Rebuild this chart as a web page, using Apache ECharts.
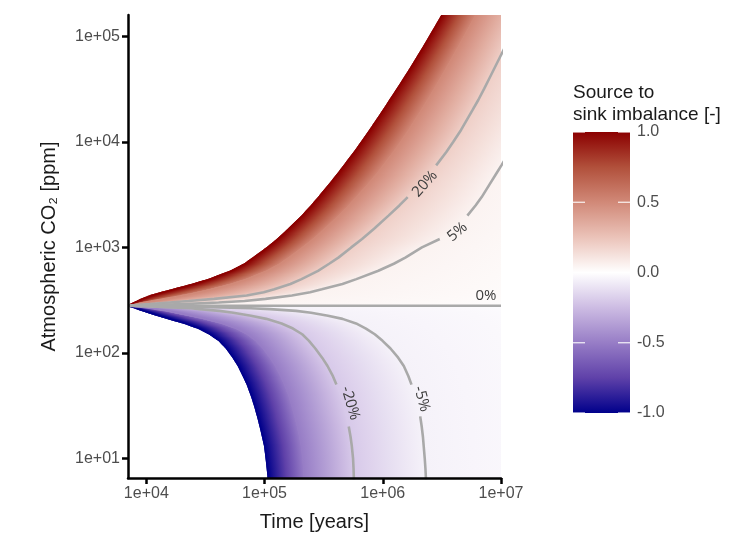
<!DOCTYPE html>
<html>
<head>
<meta charset="utf-8">
<script src="https://cdn.jsdelivr.net/npm/echarts@6/dist/echarts.min.js"></script>
<style>
  html, body { margin: 0; padding: 0; background: #fff; }
  #chart { width: 732px; height: 535px; }
</style>
</head>
<body>
<div id="chart"></div>
<script>
// ---------- data ----------
// time axis limits [years] and the starting CO2 level [ppm]
const timeStart = 7000;
const timeEnd = 1e7;
const baselineCO2 = 280;
const fadeTime = 1e8; // where the 0 % band has faded to white

// rising branch: CO2 levels and the time each imbalance curve reaches them
const co2Up = [280, 285, 290, 300, 310, 325, 350, 375, 400, 450, 500, 600, 700, 800, 1000, 1200, 1500, 2000, 2500, 3000,
  4000, 5000, 6000, 8000, 10000, 13000, 16000, 20000, 25000, 32000, 40000, 50000, 65000, 80000, 100000, 125000, 160000];
const timeUp100 = [7000, 7235, 7464, 7933, 8440, 9216, 11000, 13640, 16960, 25150, 34220, 52240, 68110, 80540, 106000,
  129100, 160000, 208200, 250000, 287200, 355200, 416700, 472100, 573600, 661400, 779000, 882700, 1010000, 1148000,
  1327000, 1509000, 1713000, 1975000, 2211000, 2485000, 2794000, 3172000];
const timeUp50 = [7000, 7543, 8131, 9438, 11040, 13850, 20170, 27560, 35470, 53170, 71070, 105700, 135800, 161800, 211700,
  259800, 325300, 427200, 519900, 603600, 758900, 898000, 1019000, 1238000, 1424000, 1671000, 1880000, 2133000, 2409000,
  2750000, 3089000, 3465000, 3952000, 4388000, 4895000, 5463000, 6154000];
const timeUp20 = [7000, 8641, 10670, 15660, 22730, 37430, 70540, 98440, 120800, 165400, 205400, 283300, 351800, 421000,
  541100, 667900, 843900, 1118000, 1382000, 1625000, 2085000, 2491000, 2828000, 3436000, 3938000, 4594000, 5113000,
  5737000, 6425000, 7210000, 7963000, 8795000, 9886000, 10850000, 11990000, 13240000, 14770000];
const timeUp5 = [7000, 12960, 20250, 40870, 67700, 101800, 170300, 242800, 305100, 455900, 597700, 917900, 1240000,
  1551000, 2144000, 3033000, 4031000, 5194000, 6093000, 6865000, 8054000, 9108000, 10080000, 11800000, 13320000,
  15330000, 17100000, 19260000, 21650000, 24620000, 27670000, 31110000, 35800000, 39840000, 44780000, 50240000, 57030000];

// falling branch
const co2Down = [280, 275, 270, 265, 260, 250, 240, 225, 210, 190, 170, 150, 130, 110, 90, 75, 60, 50, 40, 32, 25, 20,
  16, 13, 10, 8, 6.5, 5];
const timeDown100 = [7000, 7378, 7718, 8135, 8507, 9433, 10580, 12690, 15570, 21230, 27940, 34490, 41510, 47770, 54330,
  60120, 66280, 71520, 77010, 82140, 87410, 91960, 96360, 100400, 103300, 105600, 107500, 109800];
const timeDown50 = [7000, 8057, 9158, 10620, 11710, 14610, 17900, 23760, 31320, 44210, 58230, 71830, 85260, 97880,
  111900, 124300, 137800, 148400, 160300, 170700, 181400, 190700, 199000, 206000, 211600, 215200, 218100, 221300];
const timeDown20 = [7000, 11110, 16220, 23770, 28160, 41340, 54330, 76720, 103400, 139300, 174000, 208200, 237600,
  268800, 306900, 340900, 378700, 405500, 438300, 464700, 491800, 515300, 533800, 547500, 560400, 565900, 569200, 572500];
const timeDown5 = [7000, 20900, 42490, 76420, 110700, 184800, 247600, 344200, 456700, 594100, 720800, 855700, 996100,
  1162000, 1350000, 1506000, 1648000, 1750000, 1866000, 1979000, 2073000, 2135000, 2186000, 2220000, 2264000, 2295000,
  2317000, 2340000];

// imbalance levels of each branch (0 = fades out at fadeTime)
const upLevels = [1, 0.5, 0.2, 0.05, 0];
const downLevels = [-1, -0.5, -0.2, -0.05, 0];

// diverging palette (dark blue - white - dark red)
const paletteValues = [-1, -0.75, -0.5, -0.25, 0, 0.25, 0.5, 0.75, 1];
const paletteColors = ['#00008b', '#5f41a9', '#977dc6', '#cdbce3', '#ffffff', '#ebc3b9', '#d18978', '#b1503b', '#8b0000'];

// tick values
const timeTicks = [1e4, 1e5, 1e6, 1e7];
const co2Ticks = [10, 100, 1000, 10000, 100000];
const legendTicks = [-1, -0.5, 0, 0.5, 1];

// labelled contour lines
const contourNames = ['20%', '5%', '-5%', '-20%'];
const labelGapStart = [19, 15, 17, 17];
const labelGapEnd = [22, 17, 20, 21];
const labelOffsets = [-4, -6, 6, 8];
const zeroLabelTime = 7460000;

// ---------- helpers ----------
const upTimes = [timeUp100, timeUp50, timeUp20, timeUp5, null];
const downTimes = [timeDown100, timeDown50, timeDown20, timeDown5, null];
const contourTimes = [timeUp20, timeUp5, timeDown5, timeDown20];
const contourCO2 = [co2Up, co2Up, co2Down, co2Down];

function hexToRgb(h) {
  return [1, 3, 5].map(i => parseInt(h.slice(i, i + 2), 16));
}

function colorAt(v) {
  v = Math.max(-1, Math.min(1, v));
  for (let i = 0; i < paletteValues.length - 1; i++) {
    if (v <= paletteValues[i + 1]) {
      const f = (v - paletteValues[i]) / (paletteValues[i + 1] - paletteValues[i]);
      const a = hexToRgb(paletteColors[i]), b = hexToRgb(paletteColors[i + 1]);
      return 'rgb(' + a.map((c, k) => Math.round(c + (b[k] - c) * f)).join(',') + ')';
    }
  }
  return paletteColors[paletteColors.length - 1];
}

// one item per band between two neighbouring levels
const bands = [];
[[co2Up, upLevels, upTimes], [co2Down, downLevels, downTimes]].forEach(([co2, levels, times]) => {
  for (let j = 0; j < levels.length - 1; j++) {
    bands.push({ co2, a: levels[j], b: levels[j + 1], tA: times[j], tB: times[j + 1] });
  }
});

const lerp = (p, q, s) => [p[0] + (q[0] - p[0]) * s, p[1] + (q[1] - p[1]) * s];

function renderBand(params, api) {
  const band = bands[params.dataIndex];
  const cs = params.coordSys;
  const children = [];
  const tB = k => band.tB ? band.tB[k] : fadeTime;
  const stops = [0, 0.25, 0.5, 0.75, 1].map(s => ({ offset: s, color: colorAt(band.a + (band.b - band.a) * s) }));
  for (let k = 0; k < band.co2.length - 1; k++) {
    const p1 = api.coord([band.tA[k], band.co2[k]]);
    const p2 = api.coord([band.tA[k + 1], band.co2[k + 1]]);
    const p3 = api.coord([tB(k + 1), band.co2[k + 1]]);
    const p4 = api.coord([tB(k), band.co2[k]]);
    // thin horizontal slices so the colour follows the slanted edges
    const n = Math.max(1, Math.round(Math.abs(p2[1] - p1[1])));
    for (let s = 0; s < n; s++) {
      const q1 = lerp(p1, p2, s / n), q2 = lerp(p1, p2, (s + 1) / n);
      const q3 = lerp(p4, p3, (s + 1) / n), q4 = lerp(p4, p3, s / n);
      const xa = (q1[0] + q2[0]) / 2;
      let xb = (q3[0] + q4[0]) / 2;
      if (xb - xa < 0.5) xb = xa + 0.5;
      const grad = new echarts.graphic.LinearGradient(xa, 0, xb, 0, stops, true);
      children.push({
        type: 'polygon',
        shape: { points: [q1, q2, q3, q4] },
        style: { fill: grad, stroke: grad, lineWidth: 1.4 }
      });
    }
  }
  return {
    type: 'group',
    children,
    clipPath: { type: 'rect', shape: { x: cs.x, y: cs.y, width: cs.width, height: cs.height } }
  };
}

function contourData(i) {
  const t = contourTimes[i], c = contourCO2[i];
  return c.map((v, k) => (k > labelGapStart[i] && k < labelGapEnd[i]) ? [t[k], '-'] : [t[k], v]);
}

function renderLabel(params, api) {
  const i = params.dataIndex;
  let cx, cy, rot, off, text;
  if (i < contourNames.length) {
    const t = contourTimes[i], c = contourCO2[i];
    const a = api.coord([t[labelGapStart[i]], c[labelGapStart[i]]]);
    const b = api.coord([t[labelGapEnd[i]], c[labelGapEnd[i]]]);
    cx = (a[0] + b[0]) / 2;
    cy = (a[1] + b[1]) / 2;
    rot = Math.atan2(-(b[1] - a[1]), b[0] - a[0]);
    off = labelOffsets[i];
    text = contourNames[i];
  } else {
    const p = api.coord([zeroLabelTime, baselineCO2]);
    cx = p[0]; cy = p[1]; rot = 0; off = 10; text = '0%';
  }
  cx += -Math.sin(rot) * off;
  cy += -Math.cos(rot) * off;
  return {
    type: 'text', x: cx, y: cy, rotation: rot,
    style: { text, align: 'center', verticalAlign: 'middle', fill: '#3c3c3c', font: '15px "Open Sans"' }
  };
}

function renderColorbar(params, api) {
  const p0 = api.coord([0, 1]), p1 = api.coord([1, -1]);
  const legendStops = paletteValues.map((v, i) => ({ offset: (1 - v) / 2, color: paletteColors[i] })).reverse();
  const children = [{
    type: 'rect',
    shape: { x: p0[0], y: p0[1], width: p1[0] - p0[0], height: p1[1] - p0[1] },
    style: { fill: new echarts.graphic.LinearGradient(0, 0, 0, 1, legendStops) }
  }];
  legendTicks.forEach(v => {
    const y = api.coord([0, v])[1];
    [[p0[0], p0[0] + 12], [p1[0] - 12, p1[0]]].forEach(([xa, xb]) => {
      children.push({
        type: 'line', shape: { x1: xa, y1: y, x2: xb, y2: y },
        style: { stroke: 'rgba(255,255,255,0.9)', lineWidth: 1.2 }
      });
    });
  });
  return { type: 'group', children };
}

const expLabel = v => '1e+' + String(Math.round(Math.log10(v))).padStart(2, '0');

const lineStyle = { color: '#a9a9a9', width: 2.6 };
const contourSeries = contourNames.map((name, i) => ({
  type: 'line', name, data: contourData(i), showSymbol: false, symbol: 'none',
  lineStyle, connectNulls: false, clip: true, z: 3, silent: true
}));

// ---------- chart ----------
const chart = echarts.init(document.getElementById('chart'));
chart.setOption({
  animation: false,
  backgroundColor: '#fff',
  title: {
    text: 'Source to\nsink imbalance [-]',
    left: 573, top: 82, padding: 0,
    textStyle: { fontFamily: 'Liberation Sans', fontSize: 19, fontWeight: 'normal', color: '#1a1a1a', lineHeight: 22 }
  },
  grid: [
    { left: 128, right: 231, top: 15, bottom: 57, containLabel: false, outerBoundsMode: 'none' },
    { left: 573, top: 132, width: 57, height: 281, containLabel: false, outerBoundsMode: 'none' }
  ],
  xAxis: [
    {
      type: 'log', min: timeStart, max: timeEnd, gridIndex: 0, z: 10,
      axisLine: { lineStyle: { color: '#000', width: 2.5 } },
      axisTick: { customValues: timeTicks, length: 6, lineStyle: { color: '#000', width: 2.5 } },
      axisLabel: { customValues: timeTicks, formatter: expLabel, color: '#4d4d4d', fontSize: 16, margin: 8, fontFamily: 'Liberation Sans' },
      splitLine: { show: false },
      name: 'Time [years]', nameLocation: 'middle', nameGap: 34,
      nameTextStyle: { fontFamily: 'Liberation Sans', fontSize: 20, color: '#1a1a1a' }
    },
    { type: 'value', gridIndex: 1, min: 0, max: 1, show: false }
  ],
  yAxis: [
    {
      type: 'log', min: 6.5, max: 160000, gridIndex: 0, z: 10,
      axisLine: { lineStyle: { color: '#000', width: 2.5 } },
      axisTick: { customValues: co2Ticks, length: 6, lineStyle: { color: '#000', width: 2.5 } },
      axisLabel: { customValues: co2Ticks, formatter: expLabel, color: '#4d4d4d', fontSize: 16, margin: 8, fontFamily: 'Liberation Sans' },
      splitLine: { show: false },
      name: 'Atmospheric CO\u2082 [ppm]', nameLocation: 'middle', nameGap: 69,
      nameTextStyle: { fontFamily: 'Liberation Sans', fontSize: 20, color: '#1a1a1a' }
    },
    {
      type: 'value', gridIndex: 1, min: -1, max: 1, interval: 0.5, position: 'right',
      axisLine: { show: false },
      axisTick: { show: false },
      axisLabel: { formatter: v => v.toFixed(1), color: '#4d4d4d', fontSize: 16, margin: 7, fontFamily: 'Liberation Sans' },
      splitLine: { show: false }
    }
  ],
  series: [
    {
      type: 'custom', name: 'field', xAxisIndex: 0, yAxisIndex: 0, z: 1, silent: true, clip: true,
      renderItem: renderBand, data: bands.map((b, i) => [i])
    },
    ...contourSeries,
    {
      type: 'line', name: '0%', data: [[timeStart, baselineCO2], [timeEnd, baselineCO2]],
      showSymbol: false, symbol: 'none', lineStyle, z: 3, silent: true
    },
    {
      type: 'custom', name: 'labels', xAxisIndex: 0, yAxisIndex: 0, z: 4, silent: true,
      renderItem: renderLabel, data: [0, 1, 2, 3, 4].map(i => [i])
    },
    {
      type: 'custom', name: 'colorbar', xAxisIndex: 1, yAxisIndex: 1, z: 1, silent: true,
      renderItem: renderColorbar, data: [[0]]
    }
  ]
});
</script>
</body>
</html>
